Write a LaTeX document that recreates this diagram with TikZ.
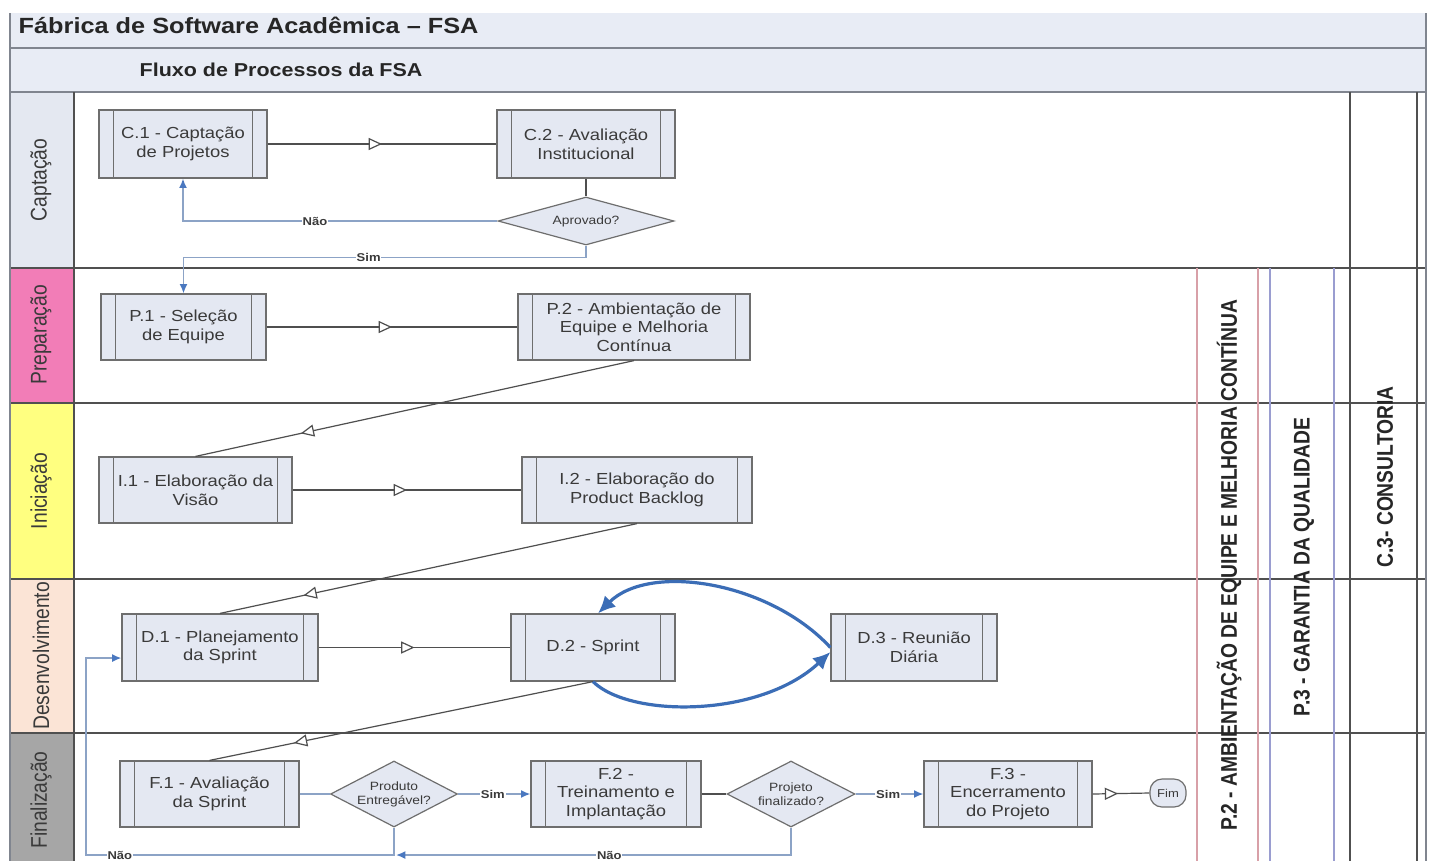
\documentclass[tikz,border=0pt]{standalone}
\usepackage{fontspec}
\setmainfont{Liberation Sans}
\newfontfamily\hfont[FakeStretch=1.15]{Liberation Sans}
\newfontfamily\vfont[FakeStretch=0.85]{Liberation Sans}
\usetikzlibrary{arrows.meta,decorations.markings,shapes.geometric}
\definecolor{boxfill}{HTML}{E4E8F2}
\definecolor{boxdraw}{HTML}{6E6E6E}
\definecolor{txt}{HTML}{3A3A3A}
\definecolor{flowc}{HTML}{4F4F4F}
\definecolor{connc}{HTML}{8CA3C6}
\definecolor{arrblue}{HTML}{4A78C0}
\definecolor{loopblue}{HTML}{3B6DB6}
\definecolor{lanec}{HTML}{505050}
\definecolor{hdrfill}{HTML}{E8ECF5}
\definecolor{hdrline}{HTML}{80858F}
\definecolor{capfill}{HTML}{E4E8F1}
\definecolor{prepfill}{HTML}{F27DB7}
\definecolor{inifill}{HTML}{FFFF80}
\definecolor{desfill}{HTML}{FBE4D6}
\definecolor{finfill}{HTML}{A6A6A6}
\definecolor{redline}{HTML}{D8A0A8}
\definecolor{blueline}{HTML}{9A9DD0}
\begin{document}
\begin{tikzpicture}[x=0.75pt,y=-0.75pt,
  wh/.style 2 args={minimum width=#1*0.75pt,minimum height=#2*0.75pt},
  proc/.style={draw=boxdraw,fill=boxfill,line width=0.9pt,text=txt,align=center,inner sep=0pt,
    font=\hfont\fontsize{12}{14}\selectfont,
    path picture={
      \draw[boxdraw,line width=0.9pt] ([xshift=11pt]path picture bounding box.north west) -- ([xshift=11pt]path picture bounding box.south west);
      \draw[boxdraw,line width=0.9pt] ([xshift=-11pt]path picture bounding box.north east) -- ([xshift=-11pt]path picture bounding box.south east);}},
  dia/.style={diamond,draw=boxdraw,fill=boxfill,line width=0.9pt,text=txt,align=center,inner sep=0pt,
    font=\hfont\fontsize{9}{10.5}\selectfont},
  fim/.style={draw=boxdraw,fill=boxfill,line width=0.9pt,rounded corners=9pt,text=txt,inner sep=0pt,
    font=\hfont\fontsize{8.5}{9}\selectfont},
  flow/.style={draw=flowc,line width=0.9pt},
  midtri/.style={postaction={decorate},decoration={markings,mark=at position #1 with {\arrow{Triangle[length=10pt,width=9pt,fill=white,line width=0.9pt]}}}},
  conn/.style={draw=connc,line width=1.2pt},
  carrow/.style={conn,-{Latex[length=7pt,width=6pt,color=arrblue]}},
  bluecurve/.style={draw=loopblue,line width=2.4pt,-{Latex[length=13pt,width=12pt]}},
  lbl/.style={font=\hfont\bfseries\fontsize{8.5}{9}\selectfont,text=txt,fill=white,inner sep=0.6pt},
  lane/.style={draw=lanec,line width=1.3pt},
  lanelbl/.style={rotate=90,font=\vfont\fontsize{17}{17}\selectfont,text=txt},
  collbl/.style={rotate=90,font=\vfont\bfseries\fontsize{17}{17}\selectfont,text=black!85},
]
\fill[white] (0,0) rectangle (1433,861);
\useasboundingbox (0,0) rectangle (1433,861);
% header bands
\fill[hdrfill] (10,13) rectangle (1426,92);
% lane label fills
\fill[capfill] (10,92) rectangle (74,268);
\fill[prepfill] (10,268) rectangle (74,403);
\fill[inifill] (10,403) rectangle (74,579);
\fill[desfill] (10,579) rectangle (74,733);
\fill[finfill] (10,733) rectangle (74,861);
% header lines
\draw[hdrline,line width=2pt] (10,48) -- (1426,48);
\draw[hdrline,line width=1.2pt] (10,92) -- (1426,92);
% lane lines
\draw[lane] (10,268) -- (1426,268);
\draw[lane] (10,403) -- (1426,403);
\draw[lane] (10,579) -- (1426,579);
\draw[lane] (10,733) -- (1426,733);
% verticals
\draw[hdrline,line width=2pt] (10,13) -- (10,861);
\draw[lane] (74,92) -- (74,861);
\draw[lane] (1350,92) -- (1350,861);
\draw[lane] (1417,92) -- (1417,861);
\draw[hdrline,line width=1.5pt] (1426,13) -- (1426,861);
\draw[redline,line width=1pt] (1197,268) -- (1197,861);
\draw[redline,line width=1pt] (1258,268) -- (1258,861);
\draw[blueline,line width=1pt] (1270,268) -- (1270,861);
\draw[blueline,line width=1pt] (1334,268) -- (1334,861);
% titles
\node[anchor=west,font=\hfont\bfseries\fontsize{16.5}{18}\selectfont,text=black!85] (title) at (14,25) {Fábrica de Software Acadêmica – FSA};
\node[anchor=west,font=\hfont\bfseries\fontsize{14}{16}\selectfont,text=black!85] (subtitle) at (135,70) {Fluxo de Processos da FSA};
% lane labels
\node[lanelbl] (lcap) at (41,180) {Captação};
\node[lanelbl] (lprep) at (41,335) {Preparação};
\node[lanelbl] (lini) at (41,491) {Iniciação};
\node[lanelbl] (ldes) at (41,656) {Desenvolvimento};
\node[lanelbl] (lfin) at (41,800) {Finalização};
% column labels
\node[collbl] (colp2) at (1229,565) {P.2 - AMBIENTAÇÃO DE EQUIPE E MELHORIA CONTÍNUA};
\node[collbl] (colp3) at (1304,567) {P.3 - GARANTIA DA QUALIDADE};
\node[collbl] (colc3) at (1385,477) {C.3- CONSULTORIA};
% process nodes
\node[proc,wh={168}{68}] (C1) at (183,144) {C.1 - Captação\\de Projetos};
\node[proc,wh={178}{68}] (C2) at (586,144) {C.2 - Avaliação\\Institucional};
\node[dia,aspect=3.7,wh={176}{48}] (Apr) at (586,221) {Aprovado?};
\node[proc,wh={165}{66}] (P1) at (183.5,327) {P.1 - Seleção\\de Equipe};
\node[proc,wh={232}{66}] (P2) at (634,327) {P.2 - Ambientação de\\Equipe e Melhoria\\Contínua};
\node[proc,wh={193}{66}] (I1) at (195.5,490) {I.1 - Elaboração da\\Visão};
\node[proc,wh={230}{66}] (I2) at (637,490) {I.2 - Elaboração do\\Product Backlog};
\node[proc,wh={196}{67}] (D1) at (220,647.5) {D.1 - Planejamento\\da Sprint};
\node[proc,wh={164}{67}] (D2) at (593,647.5) {D.2 - Sprint};
\node[proc,wh={166}{67}] (D3) at (914,647.5) {D.3 - Reunião\\Diária};
\node[proc,wh={179}{66}] (F1) at (209.5,794) {F.1 - Avaliação\\da Sprint};
\node[dia,aspect=1.92,wh={127}{66}] (Prod) at (394,794) {Produto\\Entregável?};
\node[proc,wh={170}{66}] (F2) at (616,794) {F.2 -\\Treinamento e\\Implantação};
\node[dia,aspect=1.94,wh={128}{66}] (Proj) at (791,794) {Projeto\\finalizado?};
\node[proc,wh={168}{66}] (F3) at (1008,794) {F.3 -\\Encerramento\\do Projeto};
\node[fim,wh={36}{28}] (Fim) at (1168,793) {Fim};
% flows
\draw[flow,midtri=0.5] (C1) -- (C2);
\draw[flow] (C2.south) -- (Apr.north);
\draw[carrow] (Apr.west) -| node[lbl,pos=0.29] {Não} (C1.south);
\draw[carrow] (Apr.south) -- ++(0,12) -| node[lbl,pos=0.27] {Sim} (P1.north);
\draw[flow,midtri=0.5] (P1) -- (P2);
\draw[flow,midtri=0.76] (P2.south) -- (I1.north);
\draw[flow,midtri=0.5] (I1) -- (I2);
\draw[flow,midtri=0.8] (I2.south) -- (D1.north);
\draw[flow,midtri=0.5] (D1) -- (D2);
\draw[flow,midtri=0.78] (D2.south) -- (F1.north);
\draw[bluecurve] (D3.west) .. controls (770,582) and (650,562) .. ([xshift=3.75pt]D2.north);
\draw[bluecurve] (D2.south) .. controls (630,718) and (760,718) .. ([yshift=-3.4pt]D3.west);
\draw[conn] (F1.east) -- (Prod.west);
\draw[carrow] (Prod.east) -- node[lbl,pos=0.48] {Sim} (F2.west);
\draw[flow] (F2.east) -- (Proj.west);
\draw[carrow] (Proj.east) -- node[lbl,pos=0.48] {Sim} (F3.west);
\draw[flow,midtri=0.45] (F3.east) -- (Fim.west);
\coordinate (n1) at (396,855);
\coordinate (n2) at (86,855);
\draw[carrow] (Proj.south) |- node[lbl,pos=0.73] {Não} (n1);
\draw[carrow] (Prod.south) |- node[lbl,pos=0.945] {Não} (n2) |- ([yshift=-7.9pt]D1.west);
\end{tikzpicture}
\end{document}
